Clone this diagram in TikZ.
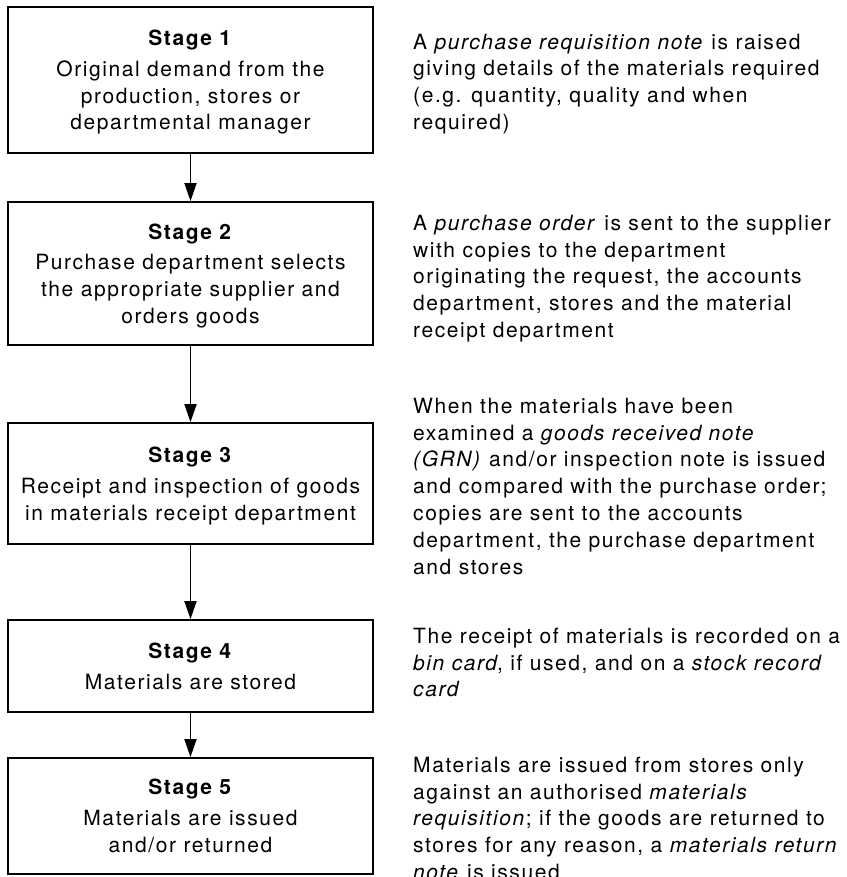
\documentclass[tikz,border=0pt]{standalone}
\usepackage{fontspec}
\setmainfont{TeX Gyre Heros}[LetterSpace=7.5]
\usetikzlibrary{arrows.meta}
% invisible strut fixing the height of a note's first line
\newcommand\firstln{\rule{0pt}{16pt}}
\begin{document}
\begin{tikzpicture}[x=1pt,y=-1pt,
  stagebox/.style={draw, line width=1.8pt, minimum width=365pt, inner sep=0pt,
    align=center, text depth=0pt, font=\fontsize{21}{26.8}\selectfont},
  note/.style={anchor=north west, inner sep=0pt, align=left,
    font=\fontsize{21}{26.8}\selectfont},
  flow/.style={line width=1.8pt, -{Triangle[length=18pt,width=12pt]}}]
\useasboundingbox (0,0) rectangle (846,877);
\clip (0,0) rectangle (846,877);

% stage boxes
\node[stagebox, minimum height=146pt] (s1) at (190.5,80)
  {\textbf{Stage 1}\\[4pt] Original demand from the\\ production, stores or\\ departmental manager};
\node[stagebox, minimum height=143pt] (s2) at (190.5,273.5)
  {\textbf{Stage 2}\\[4pt] Purchase department selects\\ the appropriate supplier and\\ orders goods};
\node[stagebox, minimum height=121pt] (s3) at (190.5,483.5)
  {\textbf{Stage 3}\\[4pt] Receipt and inspection of goods\\ in materials receipt department};
\node[stagebox, minimum height=92pt] (s4) at (190.5,666)
  {\textbf{Stage 4}\\[4pt] Materials are stored};
\node[stagebox, minimum height=116pt] (s5) at (190.5,816)
  {\textbf{Stage 5}\\[4pt] Materials are issued\\ and/or returned};

% flow between stages
\draw[flow] (s1.south) -- (s2.north);
\draw[flow] (s2.south) -- (s3.north);
\draw[flow] (s3.south) -- (s4.north);
\draw[flow] (s4.south) -- (s5.north);

% notes beside each stage
\node[note] (n1) at (413,33)
  {\firstln A \emph{purchase requisition note} is raised\\
   giving details of the materials required\\
   (e.g. quantity, quality and when\\
   required)};
\node[note] (n2) at (413,214)
  {\firstln A \emph{purchase order} is sent to the supplier\\
   with copies to the department\\
   originating the request, the accounts\\
   department, stores and the material\\
   receipt department};
\node[note] (n3) at (413,397)
  {\firstln When the materials have been\\
   examined a \emph{goods received note}\\
   \emph{(GRN)} and/or inspection note is issued\\
   and compared with the purchase order;\\
   copies are sent to the accounts\\
   department, the purchase department\\
   and stores};
\node[note] (n4) at (413,627)
  {\firstln The receipt of materials is recorded on a\\
   \emph{bin card}, if used, and on a \emph{stock record}\\
   \emph{card}};
\node[note] (n5) at (413,756)
  {\firstln Materials are issued from stores only\\
   against an authorised \emph{materials}\\
   \emph{requisition}; if the goods are returned to\\
   stores for any reason, a \emph{materials return}\\
   \emph{note} is issued};
\end{tikzpicture}
\end{document}
